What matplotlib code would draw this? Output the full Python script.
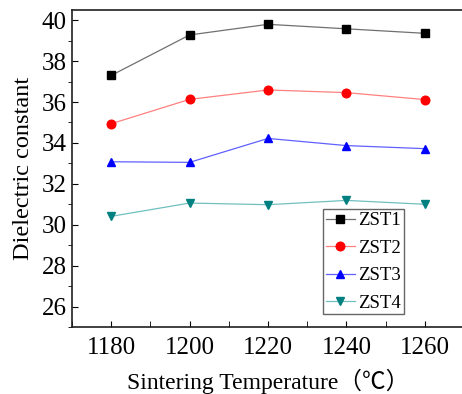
import matplotlib
matplotlib.use('Agg')
import matplotlib.pyplot as plt
from matplotlib.ticker import MultipleLocator

# data
temps = [1180, 1200, 1220, 1240, 1260]
zst1 = [37.3, 39.28, 39.8, 39.58, 39.36]
zst2 = [34.94, 36.13, 36.59, 36.46, 36.12]
zst3 = [33.08, 33.05, 34.22, 33.87, 33.72]
zst4 = [30.41, 31.06, 30.98, 31.19, 31.0]
names = ['ZST1', 'ZST2', 'ZST3', 'ZST4']

plt.rcParams['font.family'] = ['Liberation Serif', 'Noto Sans CJK SC']

fig = plt.figure(figsize=(4.62, 3.94), dpi=100)
ax = fig.add_axes([72/462, 1 - 327/394, (464-72)/462, (327-10)/394])

series = [zst1, zst2, zst3, zst4]
mcols = ['black', 'red', 'blue', '#008080']
lcols = ['#707070', '#ff8080', '#6060ff', '#70c0c0']
marks = ['s', 'o', '^', 'v']
for s, mc, lc, m, n in zip(series, mcols, lcols, marks, names):
    ax.plot(temps, s, color=lc, lw=0.9, marker=m, ms=6.2,
            mfc=mc, mec=mc, label=n)

ax.set_xlim(1170, 1270)
ax.set_ylim(25, 40.5)
ax.set_xticks(temps)
ax.xaxis.set_minor_locator(MultipleLocator(10))
ax.yaxis.set_minor_locator(MultipleLocator(1))
ax.set_yticks(range(26, 41, 2))

ax.tick_params(axis='x', which='both', direction='in', length=4, labelsize=18, pad=7)
ax.tick_params(axis='y', which='major', direction='in', length=4, labelsize=18, pad=4)
ax.tick_params(axis='y', which='minor', direction='out', length=3)
ax.tick_params(top=False, right=False)
for sp in ax.spines.values():
    sp.set_linewidth(1.2)
    sp.set_color('#202020')

ax.set_xlabel('Sintering Temperature（℃）', fontsize=17, labelpad=7)
ax.set_ylabel('Dielectric constant', fontsize=17.5, labelpad=5)

leg = ax.legend(loc='lower right', bbox_to_anchor=(0.847, 0.04), fontsize=13.5,
                frameon=True, fancybox=False, handlelength=1.55,
                handletextpad=0.2, borderpad=0.15, labelspacing=0.55,
                borderaxespad=0)
leg.get_frame().set_edgecolor('#404040')
leg.get_frame().set_linewidth(1.0)

fig.savefig('out.png', dpi=100)
